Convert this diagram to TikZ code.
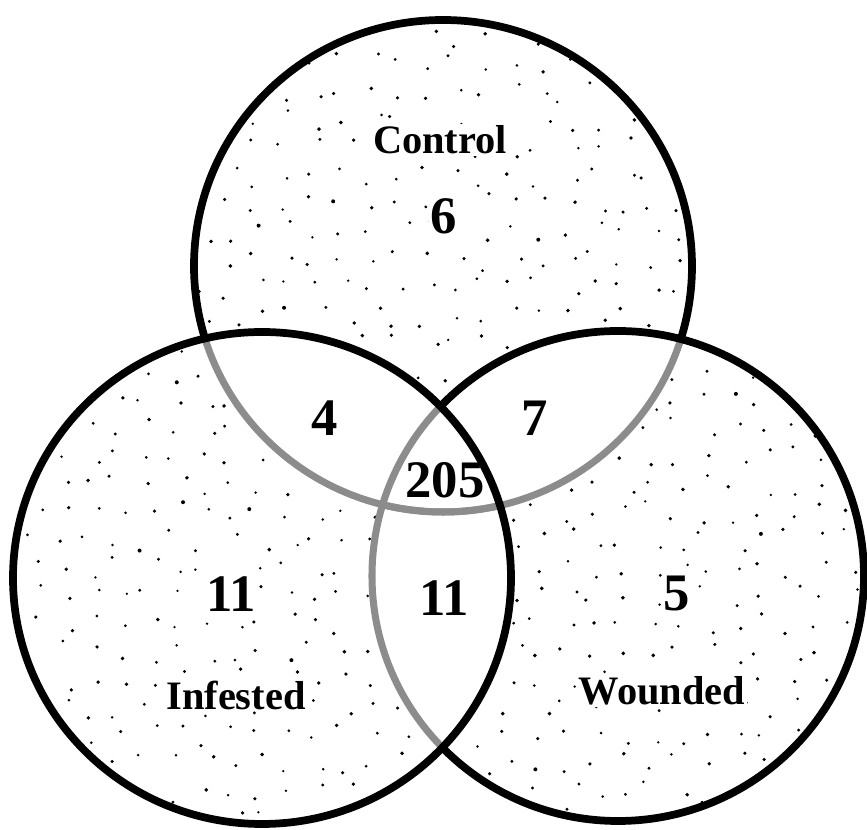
\documentclass[tikz,border=0pt]{standalone}
\usepackage{fontspec}
\setmainfont{Liberation Serif}
\definecolor{arcgray}{RGB}{140,140,140}
\tikzset{
  blackline/.style={draw=black, line width=4.4pt},
  grayline/.style={draw=arcgray, line width=4pt},
  setlabel/.style={font=\fontsize{23}{26}\selectfont\bfseries, inner sep=1pt, fill=white},
  count/.style={font=\fontsize{30}{32}\selectfont\bfseries, inner sep=1pt, fill=white},
  stipple/.style={fill=black}
}
\newcommand{\ctrlpath}{(443,266) ellipse [x radius=249, y radius=246]}
\newcommand{\infpath}{(262,578) ellipse [x radius=249, y radius=246]}
\newcommand{\wndpath}{(618,576) ellipse [x radius=246, y radius=245]}
\begin{document}
\begin{tikzpicture}[x=0.02cm, y=-0.02cm]
\useasboundingbox (0,0) rectangle (867,830);
\fill[white] (0,0) rectangle (867,830);
\pgfmathsetseed{11}
% stipple dots only in the regions that belong to one set
\foreach \gx in {8,36,...,866}{
  \foreach \gy in {8,36,...,830}{
    \pgfmathsetmacro\px{\gx+11*rand}
    \pgfmathsetmacro\py{\gy+11*rand}
    \pgfmathsetmacro\ax{(\px-443)/249}\pgfmathsetmacro\ay{(\py-266)/246}
    \pgfmathsetmacro\bx{(\px-262)/249}\pgfmathsetmacro\by{(\py-578)/246}
    \pgfmathsetmacro\cx{(\px-618)/246}\pgfmathsetmacro\cy{(\py-576)/245}
    \pgfmathtruncatemacro\cnt{(\ax*\ax+\ay*\ay<0.97)+(\bx*\bx+\by*\by<0.97)+(\cx*\cx+\cy*\cy<0.97)}
    \pgfmathtruncatemacro\out{(\ax*\ax+\ay*\ay<1.03)+(\bx*\bx+\by*\by<1.03)+(\cx*\cx+\cy*\cy<1.03)}
    \ifnum\cnt=1 \ifnum\out=1
      \pgfmathsetmacro\rr{1.3+0.7*rnd}
      \fill[stipple] (\px,\py) circle [radius=\rr];
    \fi\fi
  }
}
% labels
\node[setlabel] (lctrl) at (440,140) {Control};
\node[setlabel] (linf) at (236,695) {Infested};
\node[setlabel] (lwnd) at (662,691) {Wounded};
\node[count] (nc) at (444,216) {6};
\node[count] (nci) at (325,418) {4};
\node[count] (ncw) at (535,418) {7};
\node[count] (nall) at (445,480) {205};
\node[count] (ni) at (231,594) {11};
\node[count] (niw) at (444,598) {11};
\node[count] (nw) at (677,594) {5};
% gray inner arcs
\begin{scope}
  \clip \infpath;
  \draw[grayline] \ctrlpath;
  \draw[grayline] \wndpath;
\end{scope}
\begin{scope}
  \clip \wndpath;
  \draw[grayline] \ctrlpath;
\end{scope}
% black outer arcs
\begin{scope}[even odd rule]
  \clip (-20,-20) rectangle (900,900) \infpath;
  \begin{scope}[even odd rule]
    \clip (-20,-20) rectangle (900,900) \wndpath;
    \draw[blackline] \ctrlpath;
  \end{scope}
  \draw[blackline] \wndpath;
\end{scope}
\draw[blackline] \infpath;
\end{tikzpicture}
\end{document}
